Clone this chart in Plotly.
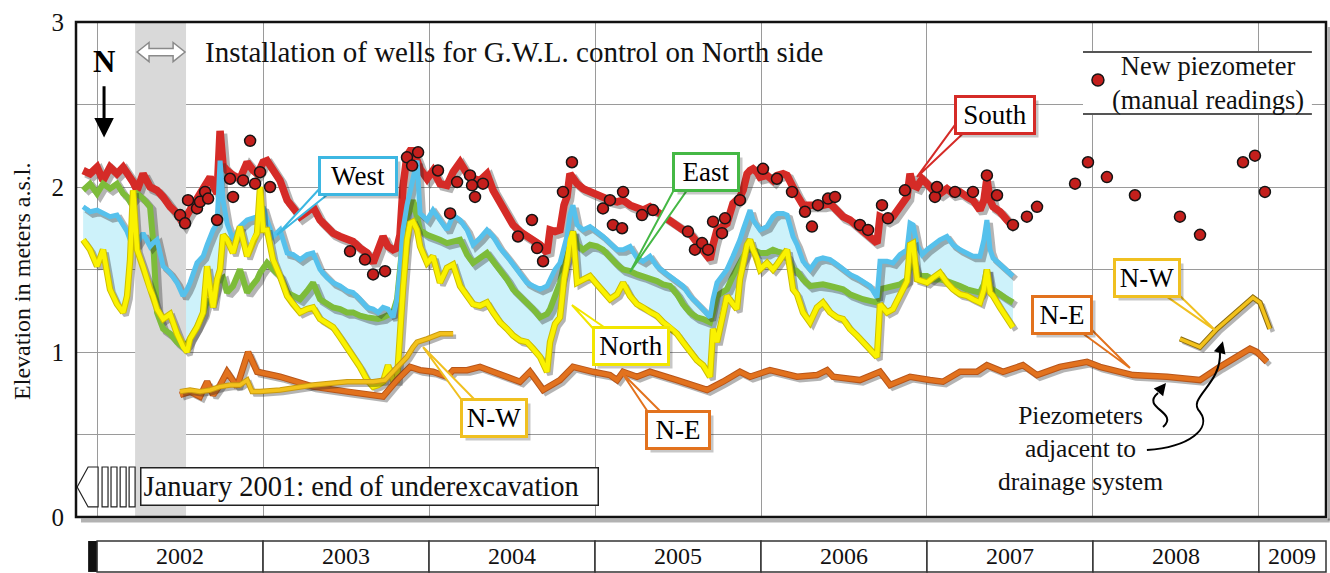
import plotly.graph_objects as go
import numpy as np

# ---------------- DATA (decimal years, metres a.s.l.) ----------------
DATES = [
    2001.916, 2001.958, 2002.000, 2002.036, 2002.078, 2002.120, 2002.157, 2002.181, 2002.199, 2002.217,
    2002.241, 2002.277, 2002.319, 2002.337, 2002.361, 2002.398, 2002.440, 2002.482, 2002.518, 2002.542,
    2002.560, 2002.602, 2002.639, 2002.663, 2002.681, 2002.699, 2002.723, 2002.741, 2002.759, 2002.783,
    2002.819, 2002.861, 2002.904, 2002.940, 2002.964, 2002.982, 2003.000, 2003.024, 2003.060, 2003.102,
    2003.145, 2003.181, 2003.223, 2003.265, 2003.301, 2003.343, 2003.386, 2003.422, 2003.464, 2003.506,
    2003.542, 2003.584, 2003.627, 2003.663, 2003.693, 2003.723, 2003.753, 2003.783, 2003.807, 2003.825,
    2003.843, 2003.867, 2003.886, 2003.904, 2003.928, 2003.946, 2003.988, 2004.024, 2004.066, 2004.108,
    2004.145, 2004.187, 2004.229, 2004.265, 2004.307, 2004.349, 2004.386, 2004.428, 2004.470, 2004.506,
    2004.548, 2004.590, 2004.627, 2004.669, 2004.711, 2004.729, 2004.759, 2004.789, 2004.813, 2004.831,
    2004.849, 2004.867, 2004.892, 2004.928, 2004.970, 2005.012, 2005.048, 2005.090, 2005.133, 2005.169,
    2005.211, 2005.253, 2005.289, 2005.331, 2005.373, 2005.410, 2005.452, 2005.494, 2005.530, 2005.572,
    2005.614, 2005.651, 2005.693, 2005.711, 2005.735, 2005.765, 2005.795, 2005.831, 2005.855, 2005.873,
    2005.892, 2005.916, 2005.934, 2005.952, 2005.976, 2005.994, 2006.036, 2006.072, 2006.096, 2006.133,
    2006.157, 2006.193, 2006.217, 2006.253, 2006.295, 2006.337, 2006.373, 2006.416, 2006.458, 2006.494,
    2006.536, 2006.578, 2006.614, 2006.657, 2006.699, 2006.717, 2006.759, 2006.795, 2006.837, 2006.880,
    2006.898, 2006.916, 2006.940, 2006.970, 2007.000, 2007.036, 2007.078, 2007.120, 2007.157, 2007.199,
    2007.241, 2007.277, 2007.319, 2007.343, 2007.361, 2007.380, 2007.398, 2007.440, 2007.482, 2007.518,
]
SOUTH = [
    2.10, 2.08, 2.12, 2.04, 2.12, 2.08, 2.12, 2.09, 2.06, 2.03,
    1.98, 2.08, 2.00, 1.99, 1.98, 1.94, 1.88, 1.84, 1.78, 1.83,
    1.86, 1.92, 2.00, 2.02, 2.06, 2.01, 1.96, 2.34, 2.13, 2.10,
    2.07, 2.05, 2.15, 2.10, 2.08, 2.11, 2.15, 2.16, 2.11, 2.04,
    1.92, 1.87, 1.82, 1.85, 1.88, 1.80, 1.75, 1.72, 1.70, 1.69,
    1.67, 1.63, 1.60, 1.54, 1.62, 1.70, 1.64, 1.62, 1.63, 1.71,
    2.00, 2.19, 2.22, 2.22, 2.16, 2.11, 2.05, 2.10, 2.02, 2.01,
    2.09, 2.15, 2.08, 2.05, 2.04, 2.08, 1.98, 1.90, 1.84, 1.77,
    1.73, 1.70, 1.68, 1.65, 1.60, 1.74, 1.73, 1.74, 1.89, 1.94,
    2.08, 2.05, 2.02, 1.99, 1.97, 1.95, 1.93, 1.92, 1.91, 1.92,
    1.89, 1.87, 1.86, 1.88, 1.85, 1.82, 1.79, 1.76, 1.74, 1.72,
    1.66, 1.61, 1.56, 1.65, 1.74, 1.76, 1.78, 1.90, 1.92, 1.94,
    1.98, 2.08, 2.10, 2.11, 2.09, 2.06, 2.07, 2.04, 2.07, 2.08,
    2.07, 1.98, 1.95, 1.89, 1.89, 1.88, 1.89, 1.90, 1.85, 1.82,
    1.80, 1.76, 1.74, 1.70, 1.66, 1.82, 1.80, 1.82, 1.88, 1.94,
    2.08, 2.01, 2.00, 2.05, 2.02, 1.98, 1.96, 1.99, 1.96, 1.97,
    1.94, 1.92, 1.86, 1.92, 2.05, 1.92, 1.88, 1.85, 1.80, 1.76,
]
WEST = [
    1.88, 1.85, 1.86, 1.84, 1.82, 1.83, 1.77, 1.73, 1.68, 1.67,
    1.66, 1.72, 1.64, 1.66, 1.68, 1.52, 1.48, 1.42, 1.34, 1.38,
    1.42, 1.54, 1.58, 1.65, 1.70, 1.74, 1.78, 2.16, 1.92, 1.78,
    1.68, 1.76, 1.80, 1.81, 1.82, 1.86, 1.88, 1.80, 1.70, 1.74,
    1.60, 1.59, 1.56, 1.59, 1.60, 1.50, 1.45, 1.42, 1.40, 1.37,
    1.36, 1.32, 1.27, 1.26, 1.24, 1.27, 1.26, 1.21, 1.32, 1.50,
    1.74, 1.89, 1.98, 2.07, 2.16, 1.84, 1.80, 1.86, 1.80, 1.74,
    1.83, 1.80, 1.74, 1.65, 1.69, 1.74, 1.70, 1.63, 1.58, 1.53,
    1.48, 1.42, 1.40, 1.38, 1.40, 1.44, 1.50, 1.54, 1.65, 1.70,
    1.83, 1.89, 1.77, 1.74, 1.76, 1.73, 1.70, 1.66, 1.62, 1.62,
    1.64, 1.57, 1.55, 1.58, 1.52, 1.49, 1.46, 1.43, 1.40, 1.34,
    1.30, 1.26, 1.21, 1.32, 1.42, 1.46, 1.50, 1.58, 1.63, 1.68,
    1.74, 1.80, 1.86, 1.80, 1.77, 1.74, 1.76, 1.82, 1.84, 1.84,
    1.83, 1.70, 1.65, 1.55, 1.50, 1.56, 1.57, 1.56, 1.53, 1.50,
    1.47, 1.45, 1.43, 1.40, 1.33, 1.55, 1.55, 1.54, 1.59, 1.62,
    1.78, 1.77, 1.65, 1.59, 1.62, 1.65, 1.68, 1.70, 1.65, 1.62,
    1.60, 1.58, 1.58, 1.68, 1.80, 1.62, 1.57, 1.53, 1.50, 1.46,
]
EAST = [
    1.98, 2.02, 1.96, 2.02, 1.99, 2.02, 1.96, 1.94, 1.91, 1.93,
    1.96, 1.93, 1.88, 1.68, 1.24, 1.14, 1.11, 1.06, 1.03, 1.05,
    1.08, 1.15, 1.23, 1.32, 1.29, 1.35, 1.42, 1.44, 1.45, 1.36,
    1.40, 1.50, 1.36, 1.41, 1.44, 1.48, 1.51, 1.54, 1.50, 1.46,
    1.36, 1.34, 1.32, 1.37, 1.42, 1.32, 1.29, 1.27, 1.26, 1.24,
    1.24, 1.22, 1.21, 1.20, 1.20, 1.21, 1.23, 1.24, 1.32, 1.50,
    1.68, 1.82, 1.86, 1.92, 1.83, 1.74, 1.71, 1.70, 1.68, 1.66,
    1.67, 1.68, 1.59, 1.54, 1.57, 1.60, 1.55, 1.50, 1.44, 1.38,
    1.34, 1.30, 1.26, 1.21, 1.23, 1.26, 1.35, 1.42, 1.53, 1.58,
    1.68, 1.73, 1.65, 1.62, 1.65, 1.64, 1.62, 1.57, 1.53, 1.50,
    1.49, 1.47, 1.46, 1.44, 1.43, 1.41, 1.40, 1.35, 1.29, 1.24,
    1.21, 1.20, 1.18, 1.24, 1.34, 1.36, 1.38, 1.46, 1.51, 1.55,
    1.57, 1.62, 1.62, 1.62, 1.61, 1.60, 1.60, 1.62, 1.61, 1.60,
    1.58, 1.50, 1.49, 1.44, 1.40, 1.41, 1.41, 1.40, 1.39, 1.38,
    1.35, 1.33, 1.32, 1.31, 1.30, 1.38, 1.39, 1.40, 1.41, 1.44,
    1.53, 1.54, 1.47, 1.46, 1.46, 1.44, 1.44, 1.43, 1.42, 1.40,
    1.38, 1.37, 1.36, 1.41, 1.50, 1.39, 1.38, 1.35, 1.32, 1.30,
]
NORTH = [
    1.68, 1.62, 1.52, 1.62, 1.38, 1.29, 1.24, 1.34, 1.56, 1.98,
    1.62, 1.52, 1.38, 1.34, 1.26, 1.20, 1.23, 1.11, 1.03, 1.00,
    1.08, 1.15, 1.24, 1.52, 1.38, 1.27, 1.44, 1.50, 1.71, 1.68,
    1.60, 1.76, 1.58, 1.68, 1.72, 2.00, 1.74, 1.74, 1.56, 1.46,
    1.34, 1.29, 1.24, 1.26, 1.27, 1.20, 1.17, 1.15, 1.09, 1.03,
    0.98, 0.91, 0.83, 0.79, 0.80, 0.82, 0.92, 0.83, 0.83, 1.14,
    1.38, 1.68, 1.78, 1.79, 1.74, 1.64, 1.54, 1.58, 1.42, 1.51,
    1.53, 1.40, 1.34, 1.29, 1.28, 1.30, 1.24, 1.18, 1.14, 1.10,
    1.07, 1.06, 1.02, 0.97, 0.88, 1.06, 1.17, 1.21, 1.44, 1.54,
    1.68, 1.73, 1.42, 1.44, 1.46, 1.41, 1.37, 1.32, 1.35, 1.42,
    1.34, 1.29, 1.27, 1.24, 1.22, 1.18, 1.15, 1.11, 1.06, 1.00,
    0.95, 0.92, 0.85, 1.14, 1.06, 1.20, 1.34, 1.29, 1.26, 1.44,
    1.54, 1.65, 1.68, 1.62, 1.57, 1.50, 1.54, 1.50, 1.53, 1.59,
    1.62, 1.38, 1.35, 1.24, 1.18, 1.27, 1.30, 1.24, 1.21, 1.20,
    1.14, 1.10, 1.06, 1.02, 0.97, 1.29, 1.24, 1.26, 1.34, 1.43,
    1.65, 1.66, 1.44, 1.43, 1.42, 1.45, 1.48, 1.42, 1.38, 1.35,
    1.34, 1.32, 1.30, 1.38, 1.50, 1.36, 1.34, 1.27, 1.21, 1.15,
]

NW1_X = [2002.500, 2002.560, 2002.620, 2002.681, 2002.741, 2002.801, 2002.861, 2002.904,
         2002.934, 2002.982, 2003.102, 2003.301, 2003.506, 2003.663, 2003.735, 2003.783,
         2003.825, 2003.867, 2003.904, 2003.928, 2003.988, 2004.066, 2004.145]
NW1_Y = [0.76, 0.77, 0.76, 0.77, 0.79, 0.80, 0.80, 0.83,
         0.76, 0.76, 0.77, 0.80, 0.82, 0.82, 0.83, 0.88,
         0.92, 0.97, 1.03, 1.06, 1.08, 1.11, 1.11]
NW2_X = [2008.524, 2008.645, 2008.747, 2008.964, 2009.006, 2009.066]
NW2_Y = [1.08, 1.03, 1.14, 1.33, 1.30, 1.14]

NE_X = [2002.500, 2002.560, 2002.620, 2002.663, 2002.699, 2002.741, 2002.783, 2002.843, 2002.910, 2002.964,
        2003.102, 2003.301, 2003.506, 2003.663, 2003.723, 2003.807, 2003.886, 2003.946, 2004.024, 2004.108,
        2004.145, 2004.229, 2004.307, 2004.386, 2004.470, 2004.548, 2004.608, 2004.687, 2004.789, 2004.867,
        2004.988, 2005.090, 2005.133, 2005.169, 2005.253, 2005.331, 2005.494, 2005.675, 2005.771, 2005.873,
        2005.934, 2006.054, 2006.217, 2006.337, 2006.398, 2006.434, 2006.596, 2006.717, 2006.777, 2006.898,
        2007.018, 2007.096, 2007.199, 2007.301, 2007.361, 2007.458, 2007.578, 2007.663, 2007.801, 2007.964,
        2008.042, 2008.241, 2008.446, 2008.645, 2008.765, 2008.946, 2008.988, 2009.048]
NE_Y = [0.74, 0.76, 0.73, 0.82, 0.74, 0.80, 0.88, 0.79, 1.00, 0.88,
        0.85, 0.79, 0.76, 0.74, 0.73, 0.83, 0.91, 0.89, 0.88, 0.85,
        0.89, 0.89, 0.91, 0.88, 0.85, 0.82, 0.88, 0.77, 0.83, 0.91,
        0.88, 0.86, 0.83, 0.88, 0.85, 0.88, 0.83, 0.77, 0.82, 0.88,
        0.85, 0.89, 0.85, 0.86, 0.89, 0.85, 0.83, 0.88, 0.80, 0.85,
        0.83, 0.82, 0.88, 0.88, 0.92, 0.88, 0.92, 0.86, 0.91, 0.94,
        0.91, 0.86, 0.85, 0.83, 0.91, 1.02, 1.00, 0.94]

PIEZO_X = [2002.500, 2002.530, 2002.548, 2002.602, 2002.620, 2002.651, 2002.669, 2002.723, 2002.801, 2002.819,
           2002.880, 2002.922, 2002.952, 2002.982, 2003.042, 2003.524, 2003.614, 2003.663, 2003.735, 2003.867,
           2003.898, 2003.934, 2004.054, 2004.127, 2004.169, 2004.247, 2004.259, 2004.277, 2004.325, 2004.536,
           2004.620, 2004.651, 2004.687, 2004.807, 2004.861, 2005.048, 2005.090, 2005.108, 2005.163, 2005.169,
           2005.283, 2005.349, 2005.560, 2005.602, 2005.645, 2005.681, 2005.711, 2005.765, 2005.783, 2005.873,
           2006.012, 2006.096, 2006.187, 2006.265, 2006.307, 2006.343, 2006.404, 2006.446, 2006.596, 2006.645,
           2006.729, 2006.765, 2006.867, 2007.048, 2007.060, 2007.169, 2007.277, 2007.361, 2007.422, 2007.518,
           2007.602, 2007.663, 2007.892, 2007.970, 2008.084, 2008.253, 2008.524, 2008.645, 2008.904, 2008.976,
           2009.036]
PIEZO_Y = [1.83, 1.78, 1.92, 1.87, 1.91, 1.97, 1.93, 1.80, 2.05, 1.94,
           2.04, 2.28, 2.02, 2.09, 2.00, 1.61, 1.56, 1.47, 1.49, 2.18,
           2.13, 2.21, 2.10, 1.84, 2.03, 2.07, 2.01, 1.94, 2.02, 1.70,
           1.80, 1.63, 1.55, 1.97, 2.15, 1.87, 1.92, 1.77, 1.75, 1.97,
           1.83, 1.86, 1.73, 1.62, 1.66, 1.62, 1.79, 1.72, 1.81, 1.92,
           2.11, 2.05, 1.97, 1.85, 1.76, 1.89, 1.93, 1.94, 1.77, 1.74,
           1.89, 1.81, 1.98, 1.94, 2.00, 1.97, 1.97, 2.07, 1.95, 1.77,
           1.82, 1.88, 2.02, 2.15, 2.06, 1.95, 1.82, 1.71, 2.15, 2.19,
           1.97]

YEARS = [2002, 2003, 2004, 2005, 2006, 2007, 2008, 2009]
Y_TICKS = [0, 0.5, 1, 1.5, 2, 2.5, 3]
Y_TICK_TEXT = ["0", "", "1", "", "2", "", "3"]
INSTALL_PERIOD = (2002.229, 2002.536)

# ---------------- STYLE / LAYOUT CONSTANTS ----------------
XMIN, XMAX = 2001.873, 2009.404
SERIF = "Liberation Serif"
SH_DX, SH_DY = 0.018, -0.018
SHADOW = "rgba(40,40,40,0.35)"
C_SOUTH, C_WEST, C_EAST, C_NORTH = "#D52B27", "#56C1EC", "#7DBC3A", "#FAF200"
C_NE, C_NW = "#E2721E", "#F3C21C"
C_FILL = "#CDF2FA"


def px(v):
    return (v - XMIN) / (XMAX - XMIN)


fig = go.Figure()

# cyan band between West and North
fig.add_trace(go.Scatter(x=DATES, y=NORTH, mode="lines", line=dict(width=0, color="rgba(0,0,0,0)"),
                         hoverinfo="skip", showlegend=False))
fig.add_trace(go.Scatter(x=DATES, y=WEST, mode="lines", line=dict(width=0, color="rgba(0,0,0,0)"),
                         fill="tonexty", fillcolor=C_FILL, hoverinfo="skip", showlegend=False))
# installation period band
i0, i1 = INSTALL_PERIOD
fig.add_trace(go.Scatter(x=[i0, i0, i1, i1, i0], y=[0, 3, 3, 0, 0], mode="lines", fill="toself",
                         fillcolor="#D9D9D9", line=dict(width=0), hoverinfo="skip", showlegend=False))


def add_line(x, y, color, width, outline=None, name=None):
    xa, ya = np.asarray(x), np.asarray(y)
    fig.add_trace(go.Scatter(x=xa + SH_DX, y=ya + SH_DY, mode="lines",
                             line=dict(color=SHADOW, width=width + 1), hoverinfo="skip", showlegend=False))
    if outline:
        fig.add_trace(go.Scatter(x=xa, y=ya, mode="lines", line=dict(color=outline, width=width + 2),
                                 hoverinfo="skip", showlegend=False))
    fig.add_trace(go.Scatter(x=xa, y=ya, mode="lines", line=dict(color=color, width=width),
                             name=name, showlegend=False))


add_line(DATES, SOUTH, C_SOUTH, 7.5, name="South")
add_line(DATES, EAST, C_EAST, 6.0, name="East")
add_line(DATES, WEST, C_WEST, 5.0, name="West")
add_line(DATES, NORTH, C_NORTH, 4.5, outline="#CDBF00", name="North")
add_line(NE_X, NE_Y, C_NE, 4.5, outline="#B8561A", name="N-E")
add_line(NW1_X, NW1_Y, C_NW, 3.5, outline="#C99A10", name="N-W")
add_line(NW2_X, NW2_Y, C_NW, 3.5, outline="#8A6A10", name="N-W")

fig.add_trace(go.Scatter(x=PIEZO_X, y=PIEZO_Y, mode="markers",
                         marker=dict(size=11, color="#C41F1C", line=dict(color="#151515", width=1.5)),
                         name="New piezometer", showlegend=False))

shapes = []
annotations = []


def poly(points):
    return "M " + " L ".join(f"{a},{b}" for a, b in points) + " Z"


# ---- labels with callout wedges ----
LABELS = [
    # text, center x, center y, color, box width, tip, base1, base2
    ("South", 2007.410, 2.436, C_SOUTH, 72, (2006.940, 2.061), (2007.169, 2.376), (2007.271, 2.376)),
    ("West", 2003.572, 2.067, "#3DB7E2", 70, (2003.084, 1.709), (2003.355, 2.006), (2003.452, 2.006)),
    ("East", 2005.669, 2.091, "#45B845", 58, (2005.211, 1.485), (2005.488, 2.006), (2005.572, 2.006)),
    ("North", 2005.217, 1.036, "#F2E600", 68, (2004.861, 1.285), (2005.018, 1.109), (2005.114, 1.109)),
    ("N-W", 2004.392, 0.600, "#F0C020", 58, (2003.964, 1.030), (2004.205, 0.697), (2004.289, 0.697)),
    ("N-E", 2005.500, 0.527, C_NE, 56, (2005.163, 0.873), (2005.331, 0.618), (2005.416, 0.618)),
    ("N-E", 2007.813, 1.224, C_NE, 52, (2008.223, 0.903), (2007.910, 1.133), (2007.994, 1.133)),
    ("N-W", 2008.325, 1.448, "#F0C020", 58, (2008.735, 1.133), (2008.404, 1.364), (2008.500, 1.364)),
]
for text, cx, cy, col, w, tip, b1, b2 in LABELS:
    shapes.append(dict(type="path", xref="x", yref="y", path=poly([b1, tip, b2]),
                       fillcolor="white", line=dict(color=col, width=2), layer="above"))
    annotations.append(dict(x=cx, y=cy, xref="x", yref="y", text=" ", showarrow=False,
                            font=dict(family=SERIF, size=27, color="rgba(0,0,0,0)"),
                            bgcolor="rgba(0,0,0,0.22)", borderwidth=3, bordercolor="rgba(0,0,0,0)",
                            borderpad=2, width=w, height=30, xshift=4, yshift=-4))
    annotations.append(dict(x=cx, y=cy, xref="x", yref="y", text=text, showarrow=False,
                            font=dict(family=SERIF, size=27, color="black"),
                            bgcolor="white", borderwidth=3, bordercolor=col,
                            borderpad=2, width=w, height=30))

# ---- "N" with arrow ----
annotations.append(dict(x=2002.042, y=2.758, xref="x", yref="y", text="<b>N</b>", showarrow=False,
                        font=dict(family=SERIF, size=31, color="black")))
annotations.append(dict(x=2002.042, y=2.30, ax=2002.042, ay=2.62, xref="x", yref="y", axref="x", ayref="y",
                        text="", showarrow=True, arrowhead=2, arrowsize=1.3, arrowwidth=3, arrowcolor="black"))

# ---- installation text + double arrow ----
annotations.append(dict(x=2002.639, y=2.818, xref="x", yref="y", xanchor="left",
                        text="Installation of wells for G.W.L. control on North side", showarrow=False,
                        font=dict(family=SERIF, size=29, color="#111")))
ax1, ax2, ay0 = 2002.241, 2002.530, 2.818
hl, hh, sh = 0.072, 0.058, 0.022
shapes.append(dict(type="path", xref="x", yref="y", layer="above",
                   path=poly([(ax1, ay0), (ax1 + hl, ay0 + hh), (ax1 + hl, ay0 + sh), (ax2 - hl, ay0 + sh),
                              (ax2 - hl, ay0 + hh), (ax2, ay0), (ax2 - hl, ay0 - hh), (ax2 - hl, ay0 - sh),
                              (ax1 + hl, ay0 - sh), (ax1 + hl, ay0 - hh)]),
                   fillcolor="white", line=dict(color="#8a8a8a", width=1.5)))

# ---- legend block for new piezometer ----
shapes.append(dict(type="rect", xref="x", yref="y", x0=2007.940, x1=2009.319, y0=2.442, y1=2.818,
                   fillcolor="white", line=dict(width=0), layer="between"))
for yy in (2.818, 2.442):
    shapes.append(dict(type="line", xref="x", yref="y", x0=2007.940, x1=2009.319, y0=yy, y1=yy,
                       line=dict(color="#555", width=2), layer="between"))
shapes.append(dict(type="circle", xref="x", yref="y", xsizemode="pixel", ysizemode="pixel",
                   xanchor=2008.030, yanchor=2.648, x0=-6, x1=6, y0=-6, y1=6,
                   fillcolor="#C41F1C", line=dict(color="#151515", width=1.5), layer="above"))
annotations.append(dict(x=2008.693, y=2.630, xref="x", yref="y", text="New piezometer<br>(manual readings)",
                        showarrow=False, align="center", font=dict(family=SERIF, size=26.5, color="#111")))

# ---- January 2001 box ----
annotations.append(dict(x=2002.259, y=0.182, xref="x", yref="y", xanchor="left", yanchor="middle",
                        text="January 2001: end of underexcavation", showarrow=False, align="left",
                        font=dict(family=SERIF, size=28.5, color="#111"), bgcolor="white",
                        bordercolor="#222", borderwidth=1.5, borderpad=2, width=452, height=32))
shapes.append(dict(type="path", xref="x", yref="y", layer="above",
                   path=poly([(2001.880, 0.182), (2001.946, 0.303), (2002.006, 0.303),
                              (2002.006, 0.061), (2001.946, 0.061)]),
                   fillcolor="white", line=dict(color="#222", width=1.2)))
for b0, b1 in [(2002.030, 2002.066), (2002.084, 2002.120), (2002.139, 2002.175), (2002.193, 2002.229)]:
    shapes.append(dict(type="rect", xref="x", yref="y", x0=b0, x1=b1, y0=0.061, y1=0.303,
                       fillcolor="white", line=dict(color="#222", width=1.2), layer="above"))

# ---- piezometers adjacent to drainage system ----
annotations.append(dict(x=2007.922, y=0.418, xref="x", yref="y",
                        text="Piezometers<br>adjacent to<br>drainage system", showarrow=False,
                        align="center", font=dict(family=SERIF, size=25.5, color="#111")))
shapes.append(dict(type="path", xref="x", yref="y", layer="above", line=dict(color="black", width=2),
                   path="M 2008.422,0.545 C 2008.524,0.636 2008.283,0.661 2008.392,0.752"))
annotations.append(dict(x=2008.440, y=0.812, ax=2008.392, ay=0.752, xref="x", yref="y", axref="x", ayref="y",
                        text="", showarrow=True, arrowhead=2, arrowsize=1.2, arrowwidth=2, arrowcolor="black"))
shapes.append(dict(type="path", xref="x", yref="y", layer="above", line=dict(color="black", width=2),
                   path="M 2008.325,0.406 C 2008.584,0.424 2008.717,0.539 2008.645,0.636 "
                        "C 2008.560,0.721 2008.777,0.800 2008.765,1.000"))
annotations.append(dict(x=2008.783, y=1.065, ax=2008.765, ay=1.000, xref="x", yref="y", axref="x", ayref="y",
                        text="", showarrow=True, arrowhead=2, arrowsize=1.2, arrowwidth=2, arrowcolor="black"))

# ---- y-axis title ----
annotations.append(dict(x=-0.0432, y=0.475, xref="paper", yref="paper", text="Elevation in meters a.s.l.",
                        textangle=-90, showarrow=False, xanchor="center", yanchor="middle",
                        font=dict(family=SERIF, size=24, color="#111")))

# ---- year band below the plot ----
BAND_Y0, BAND_Y1 = -0.111, -0.0485
shapes.append(dict(type="rect", xref="paper", yref="paper", x0=px(2001.946), x1=px(2002.0),
                   y0=BAND_Y0, y1=BAND_Y1, fillcolor="#111", line=dict(width=0)))
for yr in YEARS:
    e0 = yr
    e1 = min(yr + 1, XMAX)
    shapes.append(dict(type="rect", xref="paper", yref="paper", x0=px(e0), x1=px(e1),
                       y0=BAND_Y0, y1=BAND_Y1, fillcolor="white", line=dict(color="#333", width=1.5)))
    annotations.append(dict(x=px((e0 + e1) / 2), y=(BAND_Y0 + BAND_Y1) / 2, xref="paper", yref="paper",
                            text=str(yr), showarrow=False, xanchor="center", yanchor="middle",
                            font=dict(family=SERIF, size=24, color="#111")))

# ---- frame with shadow ----
shapes.append(dict(type="line", xref="paper", yref="paper", x0=0.004, x1=1.003, y0=-0.007, y1=-0.007,
                   line=dict(color="rgba(0,0,0,0.3)", width=4), layer="above"))
shapes.append(dict(type="line", xref="paper", yref="paper", x0=1.003, x1=1.003, y0=-0.007, y1=0.99,
                   line=dict(color="rgba(0,0,0,0.3)", width=4), layer="above"))
shapes.append(dict(type="rect", xref="paper", yref="paper", x0=0, x1=1, y0=0, y1=1,
                   line=dict(color="#111", width=2.5), layer="above"))

fig.update_layout(
    width=1330, height=573,
    margin=dict(l=76, r=4, t=22, b=56),
    paper_bgcolor="white", plot_bgcolor="white",
    showlegend=False,
    shapes=shapes, annotations=annotations,
    xaxis=dict(range=[XMIN, XMAX], tickvals=YEARS, showticklabels=False, showgrid=True,
               gridcolor="#9a9a9a", gridwidth=1, zeroline=False, showline=False, ticks=""),
    yaxis=dict(range=[0, 3], tickvals=Y_TICKS, ticktext=Y_TICK_TEXT, showgrid=True,
               gridcolor="#9a9a9a", gridwidth=1, zeroline=False, showline=False,
               ticks="outside", ticklen=6, tickcolor="rgba(0,0,0,0)",
               tickfont=dict(family=SERIF, size=25, color="#111")),
)

fig.write_html("out.html", config={"displayModeBar": False},
               post_script="document.body.style.margin='0px';document.body.style.overflow='hidden';")
